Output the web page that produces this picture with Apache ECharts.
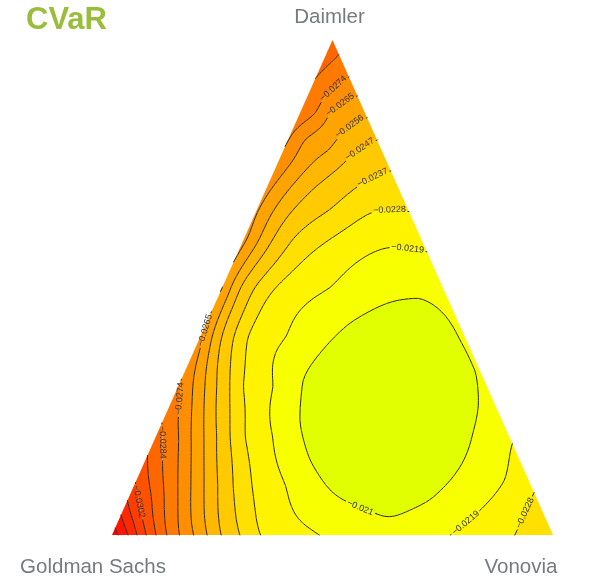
<!DOCTYPE html>
<html>
<head>
<meta charset="utf-8">
<script src="https://cdn.jsdelivr.net/npm/echarts@6/dist/echarts.min.js"></script>
<style>
  html, body { margin: 0; padding: 0; background: #fff; }
  #chart { width: 597px; height: 587px; }
</style>
</head>
<body>
<div id="chart"></div>
<script>
  // CVaR over the weight simplex. Points are [Daimler weight, Vonovia weight],
  // Goldman Sachs takes the rest. Each trace is a contour.
  const trace0210 = [[0.4768, 0.4368], [0.4788, 0.4585], [0.4444, 0.5324], [0.3939, 0.5917], [0.3434, 0.6442],
    [0.2929, 0.6831], [0.2384, 0.7082], [0.1818, 0.7207], [0.1172, 0.7145], [0.0707, 0.6857], [0.0505, 0.6504],
    [0.0465, 0.5685], [0.0848, 0.4586], [0.1515, 0.3731], [0.2263, 0.3129], [0.3131, 0.2762], [0.3596, 0.2847],
    [0.4283, 0.3251], [0.4646, 0.3817]]
  const trace0219a = [[0.5717, 0.4283], [0.5818, 0.3457], [0.5394, 0.2694], [0.5, 0.246], [0.4, 0.1964],
    [0.3, 0.217], [0.2, 0.2649], [0.1, 0.3445], [0, 0.4717]]
  const trace0219b = [[0.1859, 0.8141], [0.1111, 0.8355], [0.0444, 0.8054], [0, 0.7664]]
  const trace0228a = [[0.6525, 0.3475], [0.6525, 0.2648], [0.6, 0.1982], [0.5, 0.1213], [0.4, 0.108],
    [0.3, 0.1468], [0.2, 0.2014], [0.1, 0.2674], [0, 0.3356]]
  const trace0228b = [[0.0869, 0.9131], [0.0242, 0.9131], [0, 0.9138]]
  const trace0237 = [[0, 0.2902], [0.1, 0.2243], [0.2, 0.1674], [0.3, 0.1173], [0.4, 0.0762], [0.5, 0.0737],
    [0.6, 0.112], [0.6566, 0.1653], [0.7111, 0.2129], [0.7354, 0.2646]]
  const trace0247 = [[0, 0.2472], [0.1, 0.1903], [0.2, 0.1379], [0.3, 0.0878], [0.4, 0.049], [0.5, 0.0419],
    [0.6, 0.0666], [0.7, 0.1072], [0.7677, 0.1595], [0.798, 0.202]]
  const trace0256 = [[0, 0.2154], [0.1, 0.1585], [0.2, 0.1084], [0.3, 0.0606], [0.4, 0.0264], [0.5, 0.0192],
    [0.6, 0.0349], [0.7, 0.0528], [0.7778, 0.1045], [0.8424, 0.1576]]
  const trace0265 = [[0, 0.1859], [0.1, 0.129], [0.2, 0.079], [0.3, 0.0334], [0.4, 0.0059], [0.5, 0.0011],
    [0.6, 0.0077], [0.7, 0.012], [0.8, 0.0367], [0.8545, 0.0661], [0.8869, 0.1131]]
  const trace0274a = [[0.7778, 0], [0.8525, 0.0377], [0.9253, 0.0747]]
  const trace0274b = [[0, 0.1519], [0.1, 0.0991], [0.2, 0.0517], [0.2727, 0.0175], [0.3131, 0]]
  const trace0284a = [[0.9232, 0], [0.9475, 0.015], [0.97, 0.03]]
  const trace0284b = [[0, 0.1247], [0.1, 0.0673], [0.1717, 0.0296], [0.225, 0]]
  const trace0293 = [[0, 0.0998], [0.0707, 0.0553], [0.16, 0]]
  const trace0302 = [[0, 0.0771], [0.0505, 0.0382], [0.105, 0]]
  const trace0311 = [[0, 0.0567], [0.0303, 0.0324], [0.07, 0]]
  const trace0320 = [[0, 0.0363], [0.02, 0.018], [0.04, 0]]
  const trace0330 = [[0, 0.0136], [0.013, 0]]

  const contourTraces = [
    [-0.021, trace0210], [-0.0219, trace0219a], [-0.0219, trace0219b], [-0.0228, trace0228a], [-0.0228, trace0228b],
    [-0.0237, trace0237], [-0.0247, trace0247], [-0.0256, trace0256], [-0.0265, trace0265], [-0.0274, trace0274a],
    [-0.0274, trace0274b], [-0.0284, trace0284a], [-0.0284, trace0284b], [-0.0293, trace0293], [-0.0302, trace0302],
    [-0.0311, trace0311], [-0.032, trace0320], [-0.033, trace0330]
  ]

  // corners: Goldman Sachs, Vonovia, Daimler
  const cornerNames = ['Goldman Sachs', 'Vonovia', 'Daimler']
  const cornerCvar = [-0.0337, -0.0233, -0.0289]
  // a few more readings: [Daimler, Vonovia, CVaR] (peak, edge maxima)
  const spotCvar = [[0.27, 0.5, -0.0205], [0, 0.62, -0.0212], [0.34, 0.66, -0.02103], [0.45, 0.55, -0.0211],
    [0.25, 0.75, -0.0213], [0.4, 0, -0.0269], [0.65, 0, -0.0266]]

  const contourLevels = [-0.033, -0.032, -0.0311, -0.0302, -0.0293, -0.0284, -0.0274, -0.0265, -0.0256, -0.0247, -0.0237, -0.0228, -0.0219, -0.021]
  const bandColors = ['#ff0000', '#ff1400', '#ff2900', '#ff3d00', '#ff5100', '#ff6600', '#ff7a00', '#ff8e00',
    '#ffa300', '#ffb700', '#ffcb00', '#ffe000', '#fff400', '#f8ff00', '#e1ff00']

  // where each contour gets its label: [level, Daimler weight, Vonovia weight]
  const labelAnchors = [
    [-0.0274, 0.905, 0.059], [-0.0265, 0.873, 0.091], [-0.0256, 0.828, 0.136], [-0.0247, 0.784, 0.181],
    [-0.0237, 0.723, 0.241], [-0.0228, 0.653, 0.308], [-0.0219, 0.576, 0.394], [-0.021, 0.046, 0.569],
    [-0.0219, 0.02, 0.779], [-0.0228, 0.046, 0.92], [-0.0265, 0.5, 0.0], [-0.0274, 0.313, 0.0],
    [-0.0284, 0.206, 0.0], [-0.0302, 0.077, 0.0]
  ]

  const FINE = 90
  const SMOOTH = 0.0004
  const labelFont = 9

  const solve = (A, b) => {
    const n = b.length
    for (let c = 0; c < n; c++) {
      let p = c
      for (let r = c + 1; r < n; r++) if (Math.abs(A[r][c]) > Math.abs(A[p][c])) p = r
      ;[A[c], A[p]] = [A[p], A[c]]
      ;[b[c], b[p]] = [b[p], b[c]]
      for (let r = c + 1; r < n; r++) {
        const f = A[r][c] / A[c][c]
        if (!f) continue
        for (let k = c; k < n; k++) A[r][k] -= f * A[c][k]
        b[r] -= f * b[c]
      }
    }
    const x = new Array(n).fill(0)
    for (let r = n - 1; r >= 0; r--) {
      let s = b[r]
      for (let k = r + 1; k < n; k++) s -= A[r][k] * x[k]
      x[r] = s / A[r][r]
    }
    return x
  }

  const kernel = (r) => (r > 0 ? r * r * Math.log(r) : 0)

  // thin plate spline through all readings, in pixel space
  const makeSurface = (toPx) => {
    const samples = []
    contourTraces.forEach(([level, pts]) => pts.forEach(([d, v]) => samples.push([d, v, level])))
    samples.push([0, 0, cornerCvar[0]], [0, 1, cornerCvar[1]], [1, 0, cornerCvar[2]])
    spotCvar.forEach((s) => samples.push(s))
    const nodes = samples.map(([d, v, val]) => {
      const p = toPx(d, v)
      return [p[0] / 441, p[1] / 441, val * 1000]
    })
    const n = nodes.length
    const A = [], b = []
    for (let i = 0; i < n + 3; i++) A.push(new Array(n + 3).fill(0))
    for (let i = 0; i < n; i++) {
      for (let j = 0; j < n; j++) {
        A[i][j] = kernel(Math.hypot(nodes[i][0] - nodes[j][0], nodes[i][1] - nodes[j][1]))
      }
      A[i][i] += SMOOTH
      A[i][n] = A[n][i] = 1
      A[i][n + 1] = A[n + 1][i] = nodes[i][0]
      A[i][n + 2] = A[n + 2][i] = nodes[i][1]
      b.push(nodes[i][2])
    }
    b.push(0, 0, 0)
    const w = solve(A, b)
    return (px, py) => {
      const x = px / 441, y = py / 441
      let s = w[n] + w[n + 1] * x + w[n + 2] * y
      for (let i = 0; i < n; i++) s += w[i] * kernel(Math.hypot(x - nodes[i][0], y - nodes[i][1]))
      return s / 1000
    }
  }

  const clipPoly = (poly, vals, L, above) => {
    const out = [], ov = []
    for (let i = 0; i < poly.length; i++) {
      const j = (i + 1) % poly.length
      const a = vals[i], b = vals[j]
      const ina = above ? a >= L : a <= L
      const inb = above ? b >= L : b <= L
      if (ina) { out.push(poly[i]); ov.push(a) }
      if (ina !== inb) {
        const t = (L - a) / (b - a)
        out.push([poly[i][0] + t * (poly[j][0] - poly[i][0]), poly[i][1] + t * (poly[j][1] - poly[i][1])])
        ov.push(L)
      }
    }
    return [out, ov]
  }

  const fmt = (p) => p[0].toFixed(2) + ' ' + p[1].toFixed(2)
  const fmtLevel = (L) => String(L).replace('-', '\u2212')

  const lineLengths = (line) => {
    const cum = [0]
    for (let k = 1; k < line.length; k++) cum.push(cum[k - 1] + Math.hypot(line[k][0] - line[k - 1][0], line[k][1] - line[k - 1][1]))
    return cum
  }

  const renderItem = (params, api) => {
    if (params.dataIndex !== 0) return
    const toPx = (d, v) => api.coord([v + d / 2, d])
    const surface = makeSurface(toPx)

    // fine triangular mesh
    const idx = (i, j) => i * (FINE + 1) + j
    const px = [], val = []
    for (let i = 0; i <= FINE; i++) {
      for (let j = 0; j <= FINE; j++) {
        if (i + j > FINE) continue
        const p = toPx(i / FINE, j / FINE)
        px[idx(i, j)] = p
        val[idx(i, j)] = surface(p[0], p[1])
      }
    }
    const tris = []
    for (let i = 0; i < FINE; i++) {
      for (let j = 0; j < FINE - i; j++) {
        tris.push([idx(i, j), idx(i, j + 1), idx(i + 1, j)])
        if (i + j + 2 <= FINE) tris.push([idx(i, j + 1), idx(i + 1, j + 1), idx(i + 1, j)])
      }
    }

    // filled bands
    const bandPaths = bandColors.map(() => [])
    tris.forEach((t) => {
      const poly = t.map((k) => px[k])
      const vals = t.map((k) => val[k])
      const lo = Math.min(...vals), hi = Math.max(...vals)
      for (let k = 0; k < bandColors.length; k++) {
        const bLo = k > 0 ? contourLevels[k - 1] : -Infinity
        const bHi = k < contourLevels.length ? contourLevels[k] : Infinity
        if (hi < bLo || lo > bHi) continue
        let cur = [poly, vals]
        if (bLo > -Infinity) cur = clipPoly(cur[0], cur[1], bLo, true)
        if (cur[0].length > 2 && bHi < Infinity) cur = clipPoly(cur[0], cur[1], bHi, false)
        if (cur[0].length < 3) continue
        bandPaths[k].push('M' + cur[0].map(fmt).join('L') + 'Z')
      }
    })

    // contour lines, chained into polylines
    const traceLevel = (L) => {
      const pts = new Map(), adj = new Map()
      const cross = (a, b) => {
        const key = a < b ? a + ',' + b : b + ',' + a
        if (!pts.has(key)) {
          const t = (L - val[a]) / (val[b] - val[a])
          pts.set(key, [px[a][0] + t * (px[b][0] - px[a][0]), px[a][1] + t * (px[b][1] - px[a][1])])
        }
        return key
      }
      const link = (a, b) => {
        if (!adj.has(a)) adj.set(a, [])
        if (!adj.has(b)) adj.set(b, [])
        adj.get(a).push(b)
        adj.get(b).push(a)
      }
      tris.forEach(([a, b, c]) => {
        const keys = []
        ;[[a, b], [b, c], [c, a]].forEach(([p, q]) => {
          if ((val[p] >= L) !== (val[q] >= L)) keys.push(cross(p, q))
        })
        if (keys.length === 2) link(keys[0], keys[1])
      })
      const seen = new Set(), lines = []
      const walk = (start) => {
        const line = [start]
        seen.add(start)
        let cur = start
        for (;;) {
          const nx = adj.get(cur).find((k) => !seen.has(k))
          if (!nx) break
          seen.add(nx)
          line.push(nx)
          cur = nx
        }
        return line
      }
      for (const k of adj.keys()) if (adj.get(k).length === 1 && !seen.has(k)) lines.push(walk(k))
      for (const k of adj.keys()) {
        if (!seen.has(k)) {
          const l = walk(k)
          l.push(l[0])
          lines.push(l)
        }
      }
      return lines.map((l) => l.map((k) => pts.get(k)))
    }

    const contours = contourLevels.map(traceLevel)
    const texts = []

    const pointAt = (line, cum, s) => {
      let i = 1
      while (i < cum.length - 1 && cum[i] < s) i++
      const t = (s - cum[i - 1]) / (cum[i] - cum[i - 1] || 1)
      return [line[i - 1][0] + t * (line[i][0] - line[i - 1][0]), line[i - 1][1] + t * (line[i][1] - line[i - 1][1])]
    }

    labelAnchors.forEach(([L, d, v]) => {
      const li = contourLevels.indexOf(L)
      const lines = contours[li]
      if (!lines || !lines.length) return
      const text = fmtLevel(L)
      const h = text.length * labelFont * 0.27 + 1.5
      const target = toPx(d, v)
      let best = null
      lines.forEach((line, a) => {
        const cum = lineLengths(line)
        if (cum[cum.length - 1] < 2 * h + 4) return
        line.forEach((p, b) => {
          const dist = Math.hypot(p[0] - target[0], p[1] - target[1])
          if (!best || dist < best.dist) best = { dist, a, b, cum }
        })
      })
      if (!best) return
      const line = lines[best.a]
      const cum = best.cum
      const total = cum[cum.length - 1]
      const sc = Math.min(Math.max(cum[best.b], h + 1), total - h - 1)
      const p1 = pointAt(line, cum, sc - h)
      const p2 = pointAt(line, cum, sc + h)
      const c = pointAt(line, cum, sc)
      let ang = Math.atan2(-(p2[1] - p1[1]), p2[0] - p1[0])
      if (ang > Math.PI / 2) ang -= Math.PI
      if (ang < -Math.PI / 2) ang += Math.PI
      const partA = [], partB = []
      line.forEach((p, k) => {
        if (cum[k] < sc - h) partA.push(p)
        else if (cum[k] > sc + h) partB.push(p)
      })
      partA.push(p1)
      partB.unshift(p2)
      lines.splice(best.a, 1, partA, partB)
      texts.push({
        type: 'text',
        x: c[0],
        y: c[1],
        rotation: ang,
        style: {
          text,
          x: 0,
          y: 0,
          fill: '#333',
          font: labelFont + 'px "Liberation Sans", Arial, sans-serif',
          align: 'center',
          verticalAlign: 'middle',
          textAlign: 'center',
          textVerticalAlign: 'middle'
        }
      })
    })

    const children = []
    bandPaths.forEach((parts, k) => {
      if (!parts.length) return
      children.push({ type: 'path', shape: { pathData: parts.join('') }, style: { fill: bandColors[k], stroke: null } })
    })
    contours.forEach((lines) => {
      const d = lines.filter((l) => l.length > 1).map((l) => 'M' + l.map(fmt).join('L')).join('')
      if (!d) return
      children.push({
        type: 'path',
        shape: { pathData: d },
        style: { fill: null, stroke: '#2a2a2a', lineWidth: 1, lineJoin: 'round', lineCap: 'round' }
      })
    })
    children.push(...texts)

    const gs = toPx(0, 0), vo = toPx(0, 1), da = toPx(1, 0)
    const corner = (text, x, y) => ({
      type: 'text',
      x,
      y,
      style: {
        text,
        fill: '#767b80',
        font: '20.5px "Liberation Sans", Arial, sans-serif',
        align: 'center',
        verticalAlign: 'middle',
        textAlign: 'center',
        textVerticalAlign: 'middle'
      }
    })
    children.push(corner(cornerNames[0], gs[0] - 19, gs[1] + 32))
    children.push(corner(cornerNames[1], vo[0] - 32, vo[1] + 32))
    children.push(corner(cornerNames[2], da[0] - 3, da[1] - 23))

    return { type: 'group', children }
  }

  const chart = echarts.init(document.getElementById('chart'))
  chart.setOption({
    animation: false,
    title: {
      text: 'CVaR',
      left: 21,
      top: 0,
      textStyle: { color: '#9bbd3c', fontSize: 31, fontWeight: 'bold', fontFamily: '"Liberation Sans", Arial, sans-serif' }
    },
    grid: { left: 112, right: 44, top: 40, bottom: 52 },
    xAxis: { type: 'value', min: 0, max: 1, show: false },
    yAxis: { type: 'value', min: 0, max: 1, show: false },
    series: [{
      type: 'custom',
      coordinateSystem: 'cartesian2d',
      clip: false,
      silent: true,
      renderItem,
      data: [[0, 0]]
    }]
  })
</script>
</body>
</html>
